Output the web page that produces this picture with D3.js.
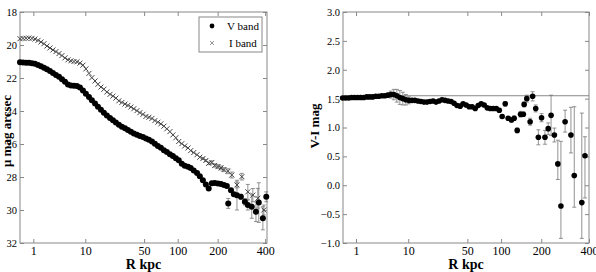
<!DOCTYPE html>
<html>
<head>
<meta charset="utf-8">
<title></title>
<script src="https://cdn.jsdelivr.net/npm/d3@7/dist/d3.min.js"></script>
<style>
	body { margin: 0; background: #fff; }
	text { font-family: "Liberation Serif", "DejaVu Serif", serif; fill: #000; }
</style>
</head>
<body>
<script>
// radii of the densely sampled part of the profile (kpc)
var radius = [0.41, 0.51, 0.63, 0.76, 0.92, 1.10, 1.31, 1.54, 1.81, 2.10,
	2.43, 2.80, 3.21, 3.67, 4.17, 4.72, 5.32, 5.97, 6.69, 7.47,
	8.31, 9.23, 10.2, 11.3, 12.4, 13.7, 15.0, 16.4, 17.9, 19.5,
	21.3, 23.1, 25.0, 27.1, 29.3, 31.7, 34.1, 36.7, 39.4, 42.4,
	45.4, 48.7, 52.1, 55.6, 59.4, 63.3, 67.4, 71.7, 76.3, 81.0,
	86.0, 91.2, 96.6, 102, 108, 114, 121, 127, 134, 142,
	149];

var vMag = [21.05, 21.06, 21.07, 21.08, 21.10, 21.13, 21.21, 21.29, 21.38, 21.47,
	21.58, 21.70, 21.82, 21.93, 22.08, 22.22, 22.40, 22.45, 22.47, 22.48,
	22.58, 22.75, 22.95, 23.15, 23.35, 23.55, 23.74, 23.92, 24.10, 24.28,
	24.42, 24.56, 24.70, 24.84, 24.95, 25.05, 25.15, 25.26, 25.36, 25.44,
	25.52, 25.58, 25.66, 25.74, 25.85, 25.98, 26.12, 26.22, 26.38, 26.48,
	26.62, 26.72, 26.86, 26.98, 27.20, 27.32, 27.38, 27.45, 27.60, 27.75,
	27.95];

var iMag = [19.62, 19.60, 19.59, 19.58, 19.60, 19.64, 19.72, 19.82, 19.92, 20.06,
	20.18, 20.30, 20.40, 20.52, 20.64, 20.78, 20.90, 20.96, 21.00, 21.02,
	21.10, 21.22, 21.45, 21.72, 21.98, 22.18, 22.38, 22.55, 22.68, 22.85,
	22.99, 23.10, 23.22, 23.38, 23.48, 23.58, 23.66, 23.76, 23.86, 23.98,
	24.10, 24.20, 24.33, 24.38, 24.45, 24.58, 24.68, 24.78, 24.92, 25.08,
	25.25, 25.45, 25.62, 25.85, 25.98, 26.12, 26.24, 26.40, 26.52, 26.65,
	26.80];

var colourVI = [1.51, 1.51, 1.51, 1.52, 1.52, 1.52, 1.52, 1.52, 1.53, 1.53,
	1.53, 1.54, 1.54, 1.55, 1.55, 1.56, 1.57, 1.57, 1.55, 1.52,
	1.50, 1.48, 1.47, 1.47, 1.47, 1.46, 1.45, 1.44, 1.44, 1.45,
	1.46, 1.44, 1.46, 1.48, 1.47, 1.46, 1.45, 1.42, 1.38, 1.37,
	1.41, 1.39, 1.36, 1.36, 1.33, 1.38, 1.41, 1.39, 1.34, 1.33,
	1.33, 1.33, 1.30, 1.19, 1.41, 1.16, 1.13, 1.16, 0.95, 1.23,
	1.23];

var colourErr = [0, 0, 0, 0, 0, 0, 0, 0, 0, 0,
	0, 0, 0, 0, 0, 0.03, 0.06, 0.09, 0.11, 0.12,
	0.11, 0.09, 0.06, 0.03, 0, 0, 0, 0, 0, 0,
	0, 0, 0, 0, 0, 0, 0, 0, 0, 0,
	0, 0, 0, 0, 0, 0, 0, 0, 0, 0,
	0.02, 0.02, 0.03, 0.03, 0.04, 0.03, 0.04, 0.04, 0.04, 0.05,
	0.04];

// sparse outer points with error bars
var vTailR = [157, 165, 173, 182, 191, 201, 211, 221, 231, 236, 246, 257, 269, 285, 302, 315, 333, 353, 367, 388, 406];
var vTailMag = [28.20, 28.45, 28.70, 28.38, 28.36, 28.40, 28.42, 28.48, 28.55, 29.60, 28.80, 29.05, 29.10, 29.20, 29.50, 29.70, 29.80, 30.10, 29.55, 30.50, 29.20];
var vTailErr = [0, 0, 0, 0, 0, 0, 0, 0, 0.05, 0.30, 0.10, 0.12, 0.90, 0.15, 0.20, 0.30, 0.70, 0.60, 1.20, 0.70, 0.30];

var iTailR = [157, 165, 173, 182, 191, 201, 211, 221, 235, 249, 269, 289, 315, 338, 362, 393];
var iTailMag = [26.88, 27.00, 27.17, 27.12, 27.30, 27.37, 27.45, 27.55, 27.65, 27.88, 28.48, 27.98, 28.90, 29.10, 29.29, 30.00];
var iTailErr = [0.05, 0.06, 0.08, 0.10, 0.10, 0.12, 0.12, 0.12, 0.15, 0.18, 0.18, 0.20, 0.45, 0.40, 0.60, 0.30];

var viTailR = [151, 158, 167, 174, 183, 191, 201, 212, 223, 233, 245, 258, 270, 287, 312, 327, 363, 379];
var viTail = [1.40, 1.50, 1.10, 1.54, 1.33, 0.83, 1.17, 0.83, 0.98, 1.21, 0.87, 0.37, -0.36, 1.10, 0.87, 0.17, -0.30, 0.51];
var viTailLo = [1.36, 1.44, 1.04, 1.46, 1.27, 0.70, 1.10, 0.71, 0.88, 0.86, 0.75, 0.10, -0.92, 0.92, 0.56, -0.38, -0.92, -0.22];
var viTailHi = [1.44, 1.56, 1.16, 1.62, 1.39, 0.96, 1.24, 0.95, 1.08, 1.56, 0.99, 0.78, 0.76, 1.30, 1.35, 1.36, 1.25, 0.84];

var xTicks = [1, 10, 50, 100, 200, 400];
var muTicks = [18, 20, 22, 24, 26, 28, 30, 32];
var colourTicks = [3, 2.5, 2, 1.5, 1, 0.5, 0, -0.5, -1];
var colourRef = 1.55;

var w = 596, h = 272;
var svg = d3.select('body').append('svg').attr('width', w).attr('height', h);

var xL = d3.scalePow().exponent(0.25).domain([0.41, 410]).range([20, 267]);
var yL = d3.scaleLinear().domain([18, 32]).range([12, 243]);
var xR = d3.scalePow().exponent(0.25).domain([0.422, 400]).range([343, 589]);
var yR = d3.scaleLinear().domain([3, -1]).range([12, 243]);

function frame(x, y, yTickVals, yFmt) {
	var x0 = x.range()[0], x1 = x.range()[1], y0 = y.range()[0], y1 = y.range()[1];
	var g = svg.append('g');
	g.append('g').attr('transform', 'translate(0,' + y1 + ')')
		.call(d3.axisBottom(x).tickValues(xTicks).tickFormat(d3.format('d')).tickSize(-4).tickPadding(3))
		.style('font-size', '12px');
	g.append('g').attr('transform', 'translate(0,' + y0 + ')')
		.call(d3.axisTop(x).tickValues(xTicks).tickFormat('').tickSize(-4));
	g.append('g').attr('transform', 'translate(' + x0 + ',0)')
		.call(d3.axisLeft(y).tickValues(yTickVals).tickFormat(yFmt).tickSize(-4).tickPadding(3))
		.style('font-size', '10.5px');
	g.append('g').attr('transform', 'translate(' + x1 + ',0)')
		.call(d3.axisRight(y).tickValues(yTickVals).tickFormat('').tickSize(-4));
	g.selectAll('.domain').remove();
	g.selectAll('.tick line').attr('stroke', '#888');
	g.selectAll('.tick text').attr('font-family', '"Liberation Serif", serif').attr('fill', '#000');
	g.append('rect').attr('x', x0).attr('y', y0).attr('width', x1 - x0).attr('height', y1 - y0)
		.attr('fill', 'none').attr('stroke', '#888').attr('stroke-width', 1);
	svg.append('text').attr('x', (x0 + x1) / 2).attr('y', 269).attr('text-anchor', 'middle')
		.style('font-size', '14px').style('font-weight', 'bold').text('R kpc');
}

function errorBars(g, pts, x, y) {
	var sel = g.selectAll(null).data(pts.filter(function(d) { return d.hi !== d.lo; })).enter();
	sel.append('line')
		.attr('x1', function(d) { return x(d.r); }).attr('x2', function(d) { return x(d.r); })
		.attr('y1', function(d) { return y(d.lo); }).attr('y2', function(d) { return y(d.hi); });
	sel.append('line')
		.attr('x1', function(d) { return x(d.r) - 2; }).attr('x2', function(d) { return x(d.r) + 2; })
		.attr('y1', function(d) { return y(d.lo); }).attr('y2', function(d) { return y(d.lo); });
	sel.append('line')
		.attr('x1', function(d) { return x(d.r) - 2; }).attr('x2', function(d) { return x(d.r) + 2; })
		.attr('y1', function(d) { return y(d.hi); }).attr('y2', function(d) { return y(d.hi); });
	g.attr('stroke', '#777').attr('stroke-width', 0.8);
}

// ---- left panel: surface brightness
frame(xL, yL, muTicks, d3.format('d'));

var vPts = radius.map(function(r, i) { return {r: r, m: vMag[i], lo: vMag[i], hi: vMag[i]}; })
	.concat(vTailR.map(function(r, i) { return {r: r, m: vTailMag[i], lo: vTailMag[i] - vTailErr[i], hi: vTailMag[i] + vTailErr[i]}; }));
var iPts = radius.map(function(r, i) { return {r: r, m: iMag[i], lo: iMag[i], hi: iMag[i]}; })
	.concat(iTailR.map(function(r, i) { return {r: r, m: iTailMag[i], lo: iTailMag[i] - iTailErr[i], hi: iTailMag[i] + iTailErr[i]}; }));

errorBars(svg.append('g'), iPts, xL, yL);
errorBars(svg.append('g'), vPts, xL, yL);

svg.append('g').selectAll('path').data(iPts).enter().append('path')
	.attr('d', function(d) {
		var cx = xL(d.r), cy = yL(d.m), s = 2.5;
		return 'M' + (cx - s) + ',' + (cy - s) + 'L' + (cx + s) + ',' + (cy + s) +
			'M' + (cx - s) + ',' + (cy + s) + 'L' + (cx + s) + ',' + (cy - s);
	})
	.attr('stroke', '#444').attr('stroke-width', 1).attr('fill', 'none');

svg.append('g').selectAll('circle').data(vPts).enter().append('circle')
	.attr('cx', function(d) { return xL(d.r); })
	.attr('cy', function(d) { return yL(d.m); })
	.attr('r', 3).attr('fill', '#000');

// legend
var lg = svg.append('g');
lg.append('rect').attr('x', 199).attr('y', 17).attr('width', 63).attr('height', 35)
	.attr('fill', '#fff').attr('stroke', '#888');
lg.append('circle').attr('cx', 212).attr('cy', 26).attr('r', 2.4).attr('fill', '#000');
lg.append('path').attr('d', 'M210,41L214,45M210,45L214,41').attr('stroke', '#888').attr('stroke-width', 0.9);
lg.append('text').attr('x', 227).attr('y', 30).style('font-size', '11px').text('V band');
lg.append('text').attr('x', 229).attr('y', 47).style('font-size', '11px').text('I band');

svg.append('text').attr('transform', 'translate(11,167) rotate(-90)').attr('text-anchor', 'start')
	.style('font-size', '13px').style('font-weight', 'bold').text('μ mag arcsec');

// ---- right panel: colour profile
frame(xR, yR, colourTicks, d3.format('.1f'));

svg.append('line').attr('x1', xR.range()[0]).attr('x2', xR.range()[1])
	.attr('y1', yR(colourRef)).attr('y2', yR(colourRef))
	.attr('stroke', '#888').attr('stroke-width', 1);

var ciPts = radius.map(function(r, i) { return {r: r, m: colourVI[i], lo: colourVI[i] - colourErr[i], hi: colourVI[i] + colourErr[i]}; })
	.concat(viTailR.map(function(r, i) { return {r: r, m: viTail[i], lo: viTailLo[i], hi: viTailHi[i]}; }));

errorBars(svg.append('g'), ciPts, xR, yR);

svg.append('g').selectAll('circle').data(ciPts).enter().append('circle')
	.attr('cx', function(d) { return xR(d.r); })
	.attr('cy', function(d) { return yR(d.m); })
	.attr('r', 2.8).attr('fill', '#000');

svg.append('text').attr('transform', 'translate(319,126) rotate(-90)').attr('text-anchor', 'middle')
	.style('font-size', '13px').style('font-weight', 'bold').text('V-I mag');
</script>
</body>
</html>
